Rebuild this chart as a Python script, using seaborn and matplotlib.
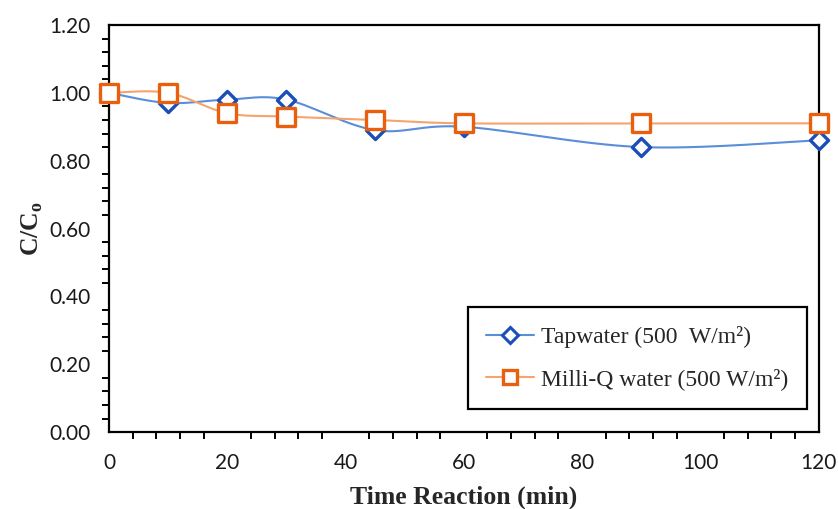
import numpy as np
import pandas as pd
import matplotlib
matplotlib.use("Agg")
import matplotlib.pyplot as plt
from matplotlib.lines import Line2D
from matplotlib.ticker import MultipleLocator, FormatStrFormatter
import seaborn as sns

time_min = [0, 10, 20, 30, 45, 60, 90, 120]
tapwater = [1.00, 0.97, 0.98, 0.98, 0.89, 0.90, 0.84, 0.86]
milliq = [1.00, 1.00, 0.94, 0.93, 0.92, 0.91, 0.91, 0.91]
series_names = ["Tapwater (500  W/m²)", "Milli-Q water (500 W/m²)"]
x_ticks = [0, 20, 40, 60, 80, 100, 120]
y_ticks = [0.0, 0.2, 0.4, 0.6, 0.8, 1.0, 1.2]


def smooth(xs, ys, n=30):
    """Excel-like smoothed line (Bezier with Catmull-Rom control points)."""
    P = np.column_stack([xs, ys]).astype(float)
    out = []
    for i in range(len(P) - 1):
        p0 = P[i - 1] if i > 0 else P[i]
        p1 = P[i]
        p2 = P[i + 1]
        p3 = P[i + 2] if i + 2 < len(P) else P[i + 1]
        c1 = p1 + (p2 - p0) / 6.0
        c2 = p2 - (p3 - p1) / 6.0
        t = np.linspace(0, 1, n, endpoint=(i == len(P) - 2))[:, None]
        b = (1 - t) ** 3 * p1 + 3 * (1 - t) ** 2 * t * c1 + 3 * (1 - t) * t ** 2 * c2 + t ** 3 * p2
        out.append(b)
    return np.vstack(out)


sns.set_theme(style="white")
fig = plt.figure(figsize=(8.38, 5.09), dpi=100)
ax = fig.add_axes([0.130, 0.151, 0.847, 0.800])

tap_line = "#5B8ED8"
tap_mark = "#1B4FB8"
mq_line = "#F5A46E"
mq_mark = "#E8600F"

for ys, name, lc, mc, mk, ms in [
    (tapwater, series_names[0], tap_line, tap_mark, "D", 85),
    (milliq, series_names[1], mq_line, mq_mark, "s", 150),
]:
    s = smooth(time_min, ys)
    df_s = pd.DataFrame({"x": s[:, 0], "y": s[:, 1]})
    sns.lineplot(data=df_s, x="x", y="y", sort=False, color=lc, linewidth=1.5, ax=ax, zorder=2)
    df_p = pd.DataFrame({"x": time_min, "y": ys})
    sns.scatterplot(data=df_p, x="x", y="y", marker=mk, s=ms, facecolor="white",
                    edgecolor=mc, linewidth=2.4, ax=ax, zorder=3, clip_on=False)

ax.set_xlim(0, 120)
ax.set_ylim(0, 1.2)
ax.set_xticks(x_ticks)
ax.set_yticks(y_ticks)
ax.xaxis.set_minor_locator(MultipleLocator(4))
ax.yaxis.set_minor_locator(MultipleLocator(0.04))
ax.yaxis.set_major_formatter(FormatStrFormatter("%.2f"))

for sp in ax.spines.values():
    sp.set_color("black")
    sp.set_linewidth(1.6)

ax.tick_params(axis="both", which="both", color="black", width=1.4)
ax.tick_params(axis="y", which="major", direction="out", length=7, pad=6)
ax.tick_params(axis="y", which="minor", direction="out", length=5, left=True)
ax.tick_params(axis="x", which="major", direction="inout", length=10, pad=10)
ax.tick_params(axis="x", which="minor", direction="out", length=5, bottom=True)
for lab in ax.get_xticklabels() + ax.get_yticklabels():
    lab.set_fontfamily("Lato")
    lab.set_fontsize(15)
    lab.set_color("#1a1a1a")

ax.set_xlabel("Time Reaction (min)", fontfamily="Liberation Serif", fontweight="bold",
              fontsize=18.5, labelpad=9)
ax.set_ylabel(r"C/C$_{\mathregular{o}}$", fontfamily="Liberation Serif", fontweight="bold",
              fontsize=18.5, labelpad=3)

handles = [
    Line2D([0], [0], color=tap_line, lw=1.5, marker="D", markersize=8,
           markerfacecolor="white", markeredgecolor=tap_mark, markeredgewidth=2.2),
    Line2D([0], [0], color=mq_line, lw=1.5, marker="s", markersize=10,
           markerfacecolor="white", markeredgecolor=mq_mark, markeredgewidth=2.4),
]
leg = ax.legend(handles, series_names, loc="lower right", bbox_to_anchor=(0.99, 0.045),
                frameon=True, fancybox=False, edgecolor="black", framealpha=1,
                prop={"family": "Liberation Serif", "size": 17}, handlelength=2.0,
                labelspacing=0.85, borderpad=0.8, handletextpad=0.3, borderaxespad=0.2)
leg.get_frame().set_linewidth(1.6)

fig.savefig("out.png", dpi=100)
